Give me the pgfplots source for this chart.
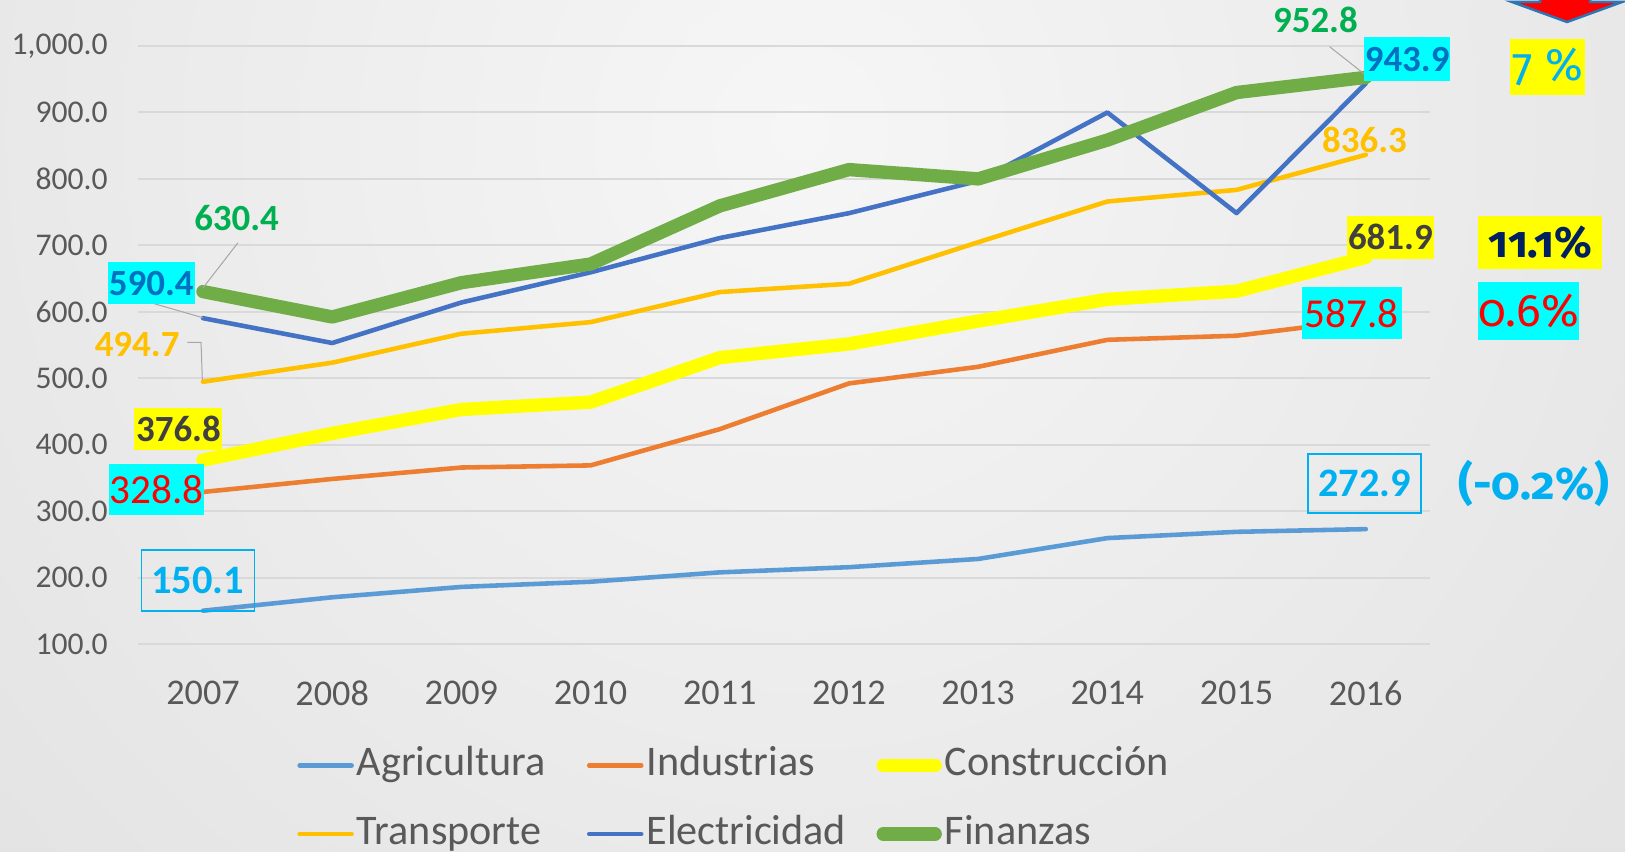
\documentclass[border=0pt]{standalone}
\usepackage{pgfplots}
\pgfplotsset{compat=1.18}
\usepackage{fontspec}
\setmainfont{Carlito}
\newfontfamily\osf[Numbers=OldStyle]{Fira Sans}
\definecolor{agri}{HTML}{5B9BD5}
\definecolor{indu}{HTML}{ED7D31}
\definecolor{cons}{HTML}{FFFF00}
\definecolor{tran}{HTML}{FFC000}
\definecolor{elec}{HTML}{4472C4}
\definecolor{fina}{HTML}{70AD47}
\definecolor{finT}{HTML}{00B050}
\definecolor{elecT}{HTML}{0070C0}
\definecolor{agriT}{HTML}{00B0F0}
\definecolor{cyanB}{HTML}{00FFFF}
\definecolor{darkT}{HTML}{404040}
\definecolor{navyT}{HTML}{002060}
\definecolor{tickgray}{HTML}{595959}
\definecolor{gridgray}{HTML}{D9D9D9}
\definecolor{bgin}{HTML}{F6F6F6}
\definecolor{bgout}{HTML}{D4D4D4}
\definecolor{leader}{HTML}{A6A6A6}
\definecolor{arrowblue}{HTML}{2E75B6}
\tikzset{
  lb/.style={inner sep=0pt, font=\bfseries\fontsize{10.5}{12}\selectfont},
  lr/.style={inner sep=0pt, font=\fontsize{11.7}{13}\selectfont},
  ld/.style={leader, line width=0.1mm},
}
\begin{document}
\begin{tikzpicture}
\useasboundingbox (0,0) rectangle (162.5mm,85.2mm);
\begin{scope}
\clip (0,0) rectangle (162.5mm,85.2mm);
\shade[inner color=bgin, outer color=bgout] (80mm,72mm) circle (200mm);
\end{scope}
\begin{axis}[
  at={(13.84mm,20.8mm)}, anchor=south west,
  scale only axis, width=129.2mm, height=59.8mm,
  xmin=2006.5, xmax=2016.5, ymin=100, ymax=1000,
  xtick={2007,...,2016}, ytick={100,200,...,1000},
  axis line style={draw=none}, major tick length=0pt,
  ymajorgrids, grid style={color=gridgray, line width=0.2mm},
  clip=false,
  /pgf/number format/assume math mode=true,
  xticklabel style={/pgf/number format/1000 sep=, font=\fontsize{10.3}{12}\selectfont, text=tickgray, inner sep=0pt, yshift=-3.6mm},
  yticklabel style={/pgf/number format/fixed, /pgf/number format/fixed zerofill, /pgf/number format/precision=1, /pgf/number format/1000 sep={,}, font=\fontsize{9}{11}\selectfont, text=tickgray, inner sep=0pt, xshift=-3mm},
  legend columns=3,
  legend cell align=left,
  legend style={at={(0.1225,-0.2605)}, anchor=west, draw=none, fill=none, inner sep=0pt,
    font=\fontsize{12}{14}\selectfont, text=tickgray, row sep=2.85mm,
    nodes={inner sep=0pt, text width=23mm, align=left, text height=3mm, text depth=1mm},
    /tikz/every odd column/.append style={column sep=0.3mm}},
  legend image code/.code={\draw[#1] (0mm,0mm) -- (5.2mm,0mm);},
]
\addplot[agri, line width=1.3pt, line cap=round, line join=round] coordinates {
(2007,150.1) (2008,170.3) (2009,185.9) (2010,193.7) (2011,207.8) (2012,215.6) (2013,228.0) (2014,259.4) (2015,268.8) (2016,272.9)};
\addplot[indu, line width=1.3pt, line cap=round, line join=round] coordinates {
(2007,328.8) (2008,348.4) (2009,365.6) (2010,368.8) (2011,423.4) (2012,492.2) (2013,517.2) (2014,557.8) (2015,564.0) (2016,587.8)};
\addplot[cons, line width=3.8pt, line cap=round, line join=round] coordinates {
(2007,376.8) (2008,417.0) (2009,453.0) (2010,464.0) (2011,531.0) (2012,551.6) (2013,586.0) (2014,618.8) (2015,631.0) (2016,681.9)};
\addplot[tran, line width=1.3pt, line cap=round, line join=round] coordinates {
(2007,494.7) (2008,523.4) (2009,567.0) (2010,584.4) (2011,629.7) (2012,642.2) (2013,704.7) (2014,766.0) (2015,783.5) (2016,836.3)};
\addplot[elec, line width=1.3pt, line cap=round, line join=round] coordinates {
(2007,590.4) (2008,553.0) (2009,614.0) (2010,659.4) (2011,711.0) (2012,748.4) (2013,797.0) (2014,900.0) (2015,748.5) (2016,943.9)};
\addplot[fina, line width=3.8pt, line cap=round, line join=round] coordinates {
(2007,630.4) (2008,592.2) (2009,643.8) (2010,671.9) (2011,759.4) (2012,814.0) (2013,800.0) (2014,858.4) (2015,930.0) (2016,952.8)};
\legend{Agricultura,Industrias,Construcción,Transporte,Electricidad,Finanzas}
% leader lines
\draw[ld] (axis cs:2007.27,703.8) -- (axis cs:2007.0,636);
\draw[ld] (axis cs:2006.6,613.4) -- (axis cs:2007.0,591);
\draw[ld] (axis cs:2006.88,553.8) -- (axis cs:2006.985,553.8) -- (axis cs:2006.995,497);
\draw[ld] (axis cs:2015.72,999) -- (axis cs:2016.02,953);
% data labels
\node[lb, text=finT] at (axis cs:2015.61,1039.2) {952.8};
\node[lb, text=elecT, fill=cyanB, minimum width=8.6mm, minimum height=4.4mm] at (axis cs:2016.32,980.4) {943.9};
\node[lb, text=tran] at (axis cs:2015.99,858.4) {836.3};
\node[lb, text=darkT, fill=cons, minimum width=8.7mm, minimum height=4.3mm] at (axis cs:2016.19,712.3) {681.9};
\node[lr, text=red, fill=cyanB, minimum width=10mm, minimum height=5.2mm] at (axis cs:2015.89,597.9) {587.8};
\node[inner sep=0pt, font=\bfseries\fontsize{11.5}{13}\selectfont, text=agriT, draw=agriT, line width=0.15mm, minimum width=11.3mm, minimum height=5.9mm] at (axis cs:2015.99,341.9) {272.9};
\node[inner sep=0pt, font=\bfseries\fontsize{11.5}{13}\selectfont, text=agriT, draw=agriT, line width=0.15mm, minimum width=11.3mm, minimum height=6.1mm] at (axis cs:2006.96,195.8) {150.1};
\node[lb, text=darkT, fill=cons, minimum width=8.8mm, minimum height=4.2mm] at (axis cs:2006.81,423.2) {376.8};
\node[lr, text=red, fill=cyanB, minimum width=9.5mm, minimum height=5.1mm] at (axis cs:2006.64,332.8) {328.8};
\node[lb, text=elecT, fill=cyanB, minimum width=8.7mm, minimum height=4.2mm] at (axis cs:2006.6,643.1) {590.4};
\node[lb, text=tran] at (axis cs:2006.49,551.2) {494.7};
\node[lb, text=finT] at (axis cs:2007.26,741) {630.4};
% right annotations
\node[inner sep=0pt, font=\osf\fontsize{13}{15}\selectfont, text=agriT, fill=cons, minimum width=7.5mm, minimum height=5.6mm] at (axis cs:2017.41,968.4) {7 \%};
\node[inner sep=0pt, font=\osf\bfseries\fontsize{12.5}{15}\selectfont, text=navyT, fill=cons, minimum width=12.4mm, minimum height=5.3mm] at (axis cs:2017.35,704.8) {11.1\%};
\node[inner sep=0pt, font=\osf\fontsize{13}{15}\selectfont, text=red, fill=cyanB, minimum width=10mm, minimum height=5.8mm] at (axis cs:2017.26,600.9) {0.6\%};
\node[inner sep=0pt, font=\osf\bfseries\fontsize{13}{15}\selectfont, text=agriT] at (axis cs:2017.30,341.9) {(-0.2\%)};
\end{axis}
\begin{scope}[shift={(0,85.2mm)}, x=0.1mm, y=-0.1mm]
\draw[fill=red, draw=arrowblue, line width=0.25mm, line join=miter] (1540,-40) -- (1540,2) -- (1512,2) -- (1567,22) -- (1622,2) -- (1590,2) -- (1590,-40) -- cycle;
\node[anchor=base, text=darkT, font=\fontsize{20}{24}\selectfont, inner sep=0pt] at (627,-11) {(};
\node[anchor=base, text=darkT, font=\fontsize{20}{24}\selectfont, inner sep=0pt] at (826,-11) {)};
\end{scope}
\end{tikzpicture}
\end{document}
